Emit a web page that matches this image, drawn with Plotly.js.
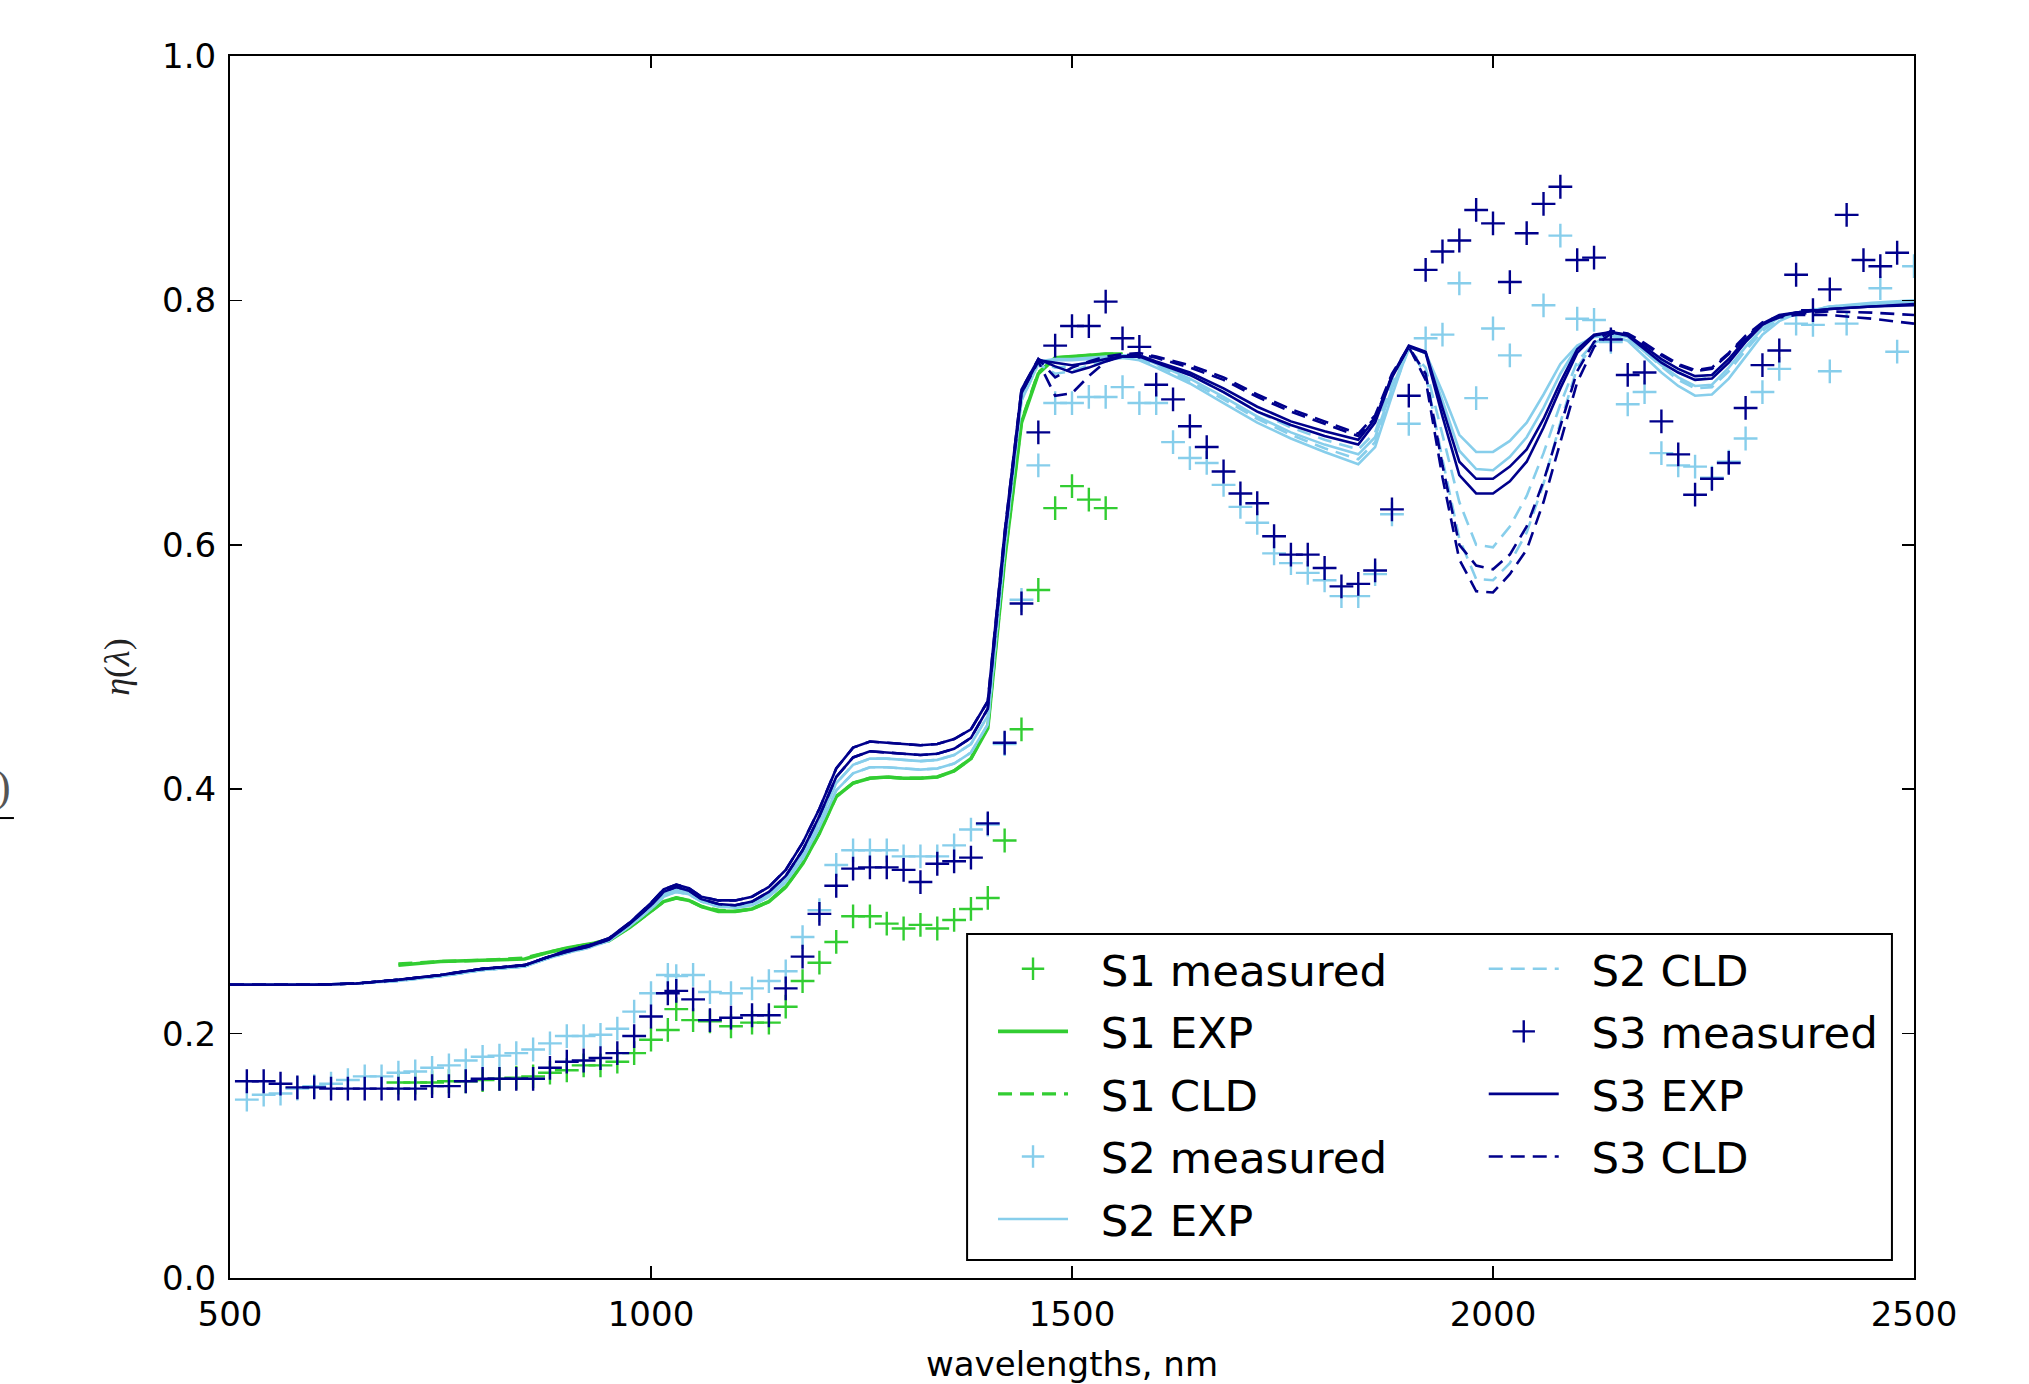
<!DOCTYPE html>
<html>
<head>
<meta charset="utf-8">
<script src="https://cdn.plot.ly/plotly-3.0.1.min.js"></script>
<style>html,body{margin:0;padding:0;background:#fff;}#chart{width:2029px;height:1384px;}</style>
</head>
<body>
<div id="chart"></div>
<script>
// ---------- data ----------
const xTicks = [500, 1000, 1500, 2000, 2500];
const yTicks = [0, 0.2, 0.4, 0.6, 0.8, 1.0];
const yTickText = ['0.0', '0.2', '0.4', '0.6', '0.8', '1.0'];

// measured wavelengths (S2, S3)
const measWl = [520,540,560,580,600,620,640,660,680,700,720,740,760,780,800,820,840,860,880,900,920,940,960,980,1000,
  1020,1030,1050,1070,1095,1120,1140,
  1160,1180,1200,1220,1240,1260,1280,1300,1320,1340,1360,1380,1400,1420,1440,1460,1480,1500,1520,1540,
  1560,1580,1600,1620,1640,1660,1680,1700,1720,1740,1760,1780,1800,1820,1840,1860,1880,1900,1920,1940,
  1960,1980,2000,2020,2040,2060,2080,2100,2120,2140,2160,2180,2200,2220,2240,2260,2280,2300,2320,2340,
  2360,2380,2400,2420,2440,2460,2480,2500];

const s2Measured = [0.146,0.150,0.151,0.155,0.157,0.159,0.162,0.165,0.165,0.168,0.169,0.172,0.174,0.178,0.181,0.182,0.184,0.187,0.192,0.198,0.198,0.199,0.204,0.218,0.233,
  0.248,0.247,0.248,0.234,0.233,0.237,0.243,
  0.251,0.279,0.301,0.338,0.350,0.350,0.350,0.345,0.345,0.345,0.354,0.367,0.371,0.437,0.555,0.665,0.716,0.716,0.721,0.721,
  0.729,0.716,0.716,0.684,0.671,0.667,0.649,0.631,0.618,0.593,0.585,0.577,0.571,0.558,0.558,0.576,0.625,0.699,0.769,0.772,
  0.814,0.720,0.777,0.755,null,0.796,0.853,0.785,0.784,0.766,0.715,0.725,0.675,0.665,0.664,0.655,0.668,0.687,0.725,0.744,
  0.781,0.780,0.742,0.781,null,0.810,0.758,0.828];

const s3Measured = [0.161,0.161,0.159,0.156,0.156,0.155,0.155,0.155,0.155,0.155,0.155,0.157,0.157,0.161,0.163,0.163,0.163,0.163,0.172,0.177,0.178,0.180,0.184,0.198,0.214,
  0.233,0.235,0.228,0.211,0.213,0.215,0.215,
  0.237,0.263,0.298,0.321,0.335,0.336,0.336,0.334,0.324,0.339,0.341,0.344,0.372,0.438,0.552,0.692,0.763,0.779,0.779,0.799,
  0.769,0.762,0.731,0.719,0.697,0.680,0.660,0.642,0.634,0.607,0.592,0.592,0.581,0.566,0.568,0.579,0.629,0.722,0.825,0.840,
  0.849,0.874,0.863,0.815,0.855,0.879,0.893,0.833,0.835,0.768,0.739,0.741,0.701,0.674,0.641,0.654,0.667,0.712,0.747,0.759,
  0.821,0.792,0.809,0.870,0.833,0.828,0.839,null];

// S1 measured
const s1MeasWl = [700,720,740,760,780,800,820,840,860,880,900,920,940,960,980,1000,
  1020,1030,1050,1070,1095,1120,1140,
  1160,1180,1200,1220,1240,1260,1280,1300,1320,1340,1360,1380,1400,1420,1440,1460,1480,1500,1520,1540];
const s1Measured = [0.160,0.160,0.160,0.161,0.161,0.162,0.163,0.164,0.165,0.168,0.170,0.174,0.174,0.177,0.184,0.195,
  0.203,0.220,0.211,0.210,0.206,0.209,0.209,
  0.222,0.243,0.258,0.275,0.296,0.296,0.290,0.286,0.289,0.286,0.293,0.302,0.311,0.358,0.449,0.563,0.630,0.648,0.637,0.630];

// S1 model curves
const s1LineWl = [700,750,800,850,875,900,925,950,975,1000,1015,1030,1045,1060,1080,1100,1120,1140,1160,1180,1200,
  1220,1240,1260,1280,1300,1320,1340,1360,1380,1400,1420,1440,1460,1480,1500,1520,1540,1560];
const s1Exp = [0.256,0.259,0.260,0.261,0.266,0.270,0.273,0.276,0.287,0.300,0.308,0.311,0.309,0.304,0.300,0.300,0.302,0.308,0.320,0.339,0.364,
  0.394,0.405,0.409,0.410,0.409,0.409,0.410,0.415,0.425,0.450,0.588,0.700,0.740,0.753,0.754,0.755,0.756,0.756];
const s1Cld = [0.257,0.259,0.260,0.262,0.266,0.270,0.273,0.277,0.287,0.300,0.308,0.311,0.309,0.304,0.301,0.300,0.302,0.308,0.320,0.339,0.364,
  0.394,0.405,0.409,0.410,0.409,0.409,0.410,0.415,0.425,0.451,0.589,0.701,0.741,0.753,0.754,0.755,0.756,0.756];

// S2 / S3 model curves
const lineWl = [500,550,600,650,700,750,800,850,875,900,925,950,975,1000,1015,1030,1045,1060,1080,1100,
  1120,1140,1160,1180,1200,1220,1240,1260,1280,1300,1320,1340,1360,1380,1400,1420,1440,1460,1480,1500,
  1520,1540,1560,1580,1600,1640,1680,1720,1760,1800,1840,1860,1880,1900,1920,1940,1960,1980,2000,2020,
  2040,2060,2080,2100,2120,2140,2160,2180,2200,2220,2240,2260,2280,2300,2320,2340,2360,2400,2450,2500];

const s2ExpA = [0.240,0.240,0.240,0.241,0.243,0.247,0.252,0.255,0.261,0.266,0.270,0.276,0.288,0.302,0.312,0.316,0.314,0.308,0.304,0.303,
  0.305,0.312,0.324,0.343,0.369,0.399,0.413,0.418,0.418,0.417,0.416,0.417,0.421,0.430,0.453,0.596,0.718,0.748,0.751,0.751,
  0.752,0.753,0.753,0.751,0.745,0.732,0.716,0.700,0.687,0.676,0.666,0.680,0.722,0.762,0.757,0.725,0.690,0.676,0.676,0.685,
  0.700,0.723,0.748,0.763,0.770,0.771,0.767,0.754,0.741,0.730,0.722,0.723,0.736,0.754,0.772,0.783,0.789,0.795,0.798,0.800];
const s2ExpB = [0.240,0.240,0.240,0.241,0.244,0.247,0.252,0.255,0.261,0.267,0.271,0.277,0.289,0.304,0.314,0.318,0.316,0.309,0.305,0.304,
  0.307,0.314,0.327,0.347,0.374,0.405,0.420,0.425,0.425,0.424,0.423,0.424,0.428,0.437,0.460,0.600,0.721,0.750,0.752,0.752,
  0.753,0.754,0.755,0.754,0.748,0.736,0.721,0.705,0.692,0.682,0.674,0.688,0.728,0.762,0.757,0.718,0.677,0.662,0.661,0.672,
  0.688,0.712,0.740,0.762,0.771,0.773,0.770,0.758,0.747,0.737,0.730,0.731,0.745,0.762,0.777,0.786,0.790,0.794,0.797,0.799];
const s2CldA = [0.240,0.240,0.240,0.241,0.244,0.247,0.252,0.255,0.261,0.267,0.271,0.277,0.289,0.304,0.314,0.318,0.316,0.309,0.305,0.304,
  0.307,0.314,0.327,0.347,0.374,0.405,0.420,0.425,0.425,0.424,0.423,0.424,0.428,0.437,0.460,0.600,0.721,0.750,0.745,0.746,
  0.750,0.753,0.755,0.755,0.750,0.739,0.725,0.709,0.696,0.686,0.678,0.692,0.733,0.760,0.745,0.690,0.635,0.600,0.598,0.615,
  0.640,0.675,0.715,0.750,0.765,0.772,0.771,0.761,0.750,0.741,0.735,0.737,0.750,0.766,0.780,0.787,0.790,0.794,0.796,0.797];
const s2CldB = [0.240,0.240,0.240,0.241,0.243,0.247,0.252,0.255,0.261,0.266,0.270,0.276,0.288,0.302,0.312,0.316,0.314,0.308,0.304,0.303,
  0.305,0.312,0.324,0.343,0.369,0.399,0.413,0.418,0.418,0.417,0.416,0.417,0.421,0.430,0.453,0.596,0.718,0.748,0.740,0.742,
  0.747,0.751,0.753,0.752,0.747,0.734,0.719,0.703,0.690,0.679,0.670,0.684,0.725,0.760,0.740,0.670,0.605,0.572,0.571,0.585,
  0.610,0.650,0.700,0.745,0.765,0.772,0.769,0.758,0.746,0.735,0.728,0.729,0.742,0.759,0.775,0.785,0.790,0.795,0.797,0.798];

const s3ExpA = [0.240,0.240,0.240,0.241,0.244,0.248,0.253,0.256,0.262,0.268,0.272,0.278,0.291,0.307,0.318,0.322,0.319,0.312,0.309,0.309,
  0.312,0.320,0.334,0.356,0.384,0.417,0.434,0.439,0.438,0.437,0.436,0.437,0.441,0.449,0.472,0.610,0.727,0.752,0.746,0.741,
  0.745,0.750,0.754,0.755,0.750,0.741,0.728,0.713,0.701,0.693,0.686,0.703,0.738,0.763,0.758,0.712,0.668,0.654,0.654,0.664,
  0.678,0.703,0.733,0.760,0.772,0.774,0.772,0.762,0.752,0.744,0.738,0.739,0.752,0.768,0.781,0.788,0.790,0.793,0.795,0.796];
const s3ExpB = [0.240,0.240,0.240,0.241,0.244,0.248,0.253,0.256,0.262,0.267,0.271,0.277,0.290,0.305,0.316,0.320,0.317,0.310,0.306,0.305,
  0.308,0.316,0.329,0.350,0.378,0.410,0.426,0.431,0.430,0.429,0.428,0.429,0.433,0.442,0.466,0.605,0.724,0.751,0.749,0.747,
  0.749,0.752,0.754,0.754,0.749,0.739,0.725,0.709,0.698,0.689,0.682,0.700,0.737,0.762,0.757,0.705,0.657,0.642,0.642,0.652,
  0.668,0.696,0.728,0.757,0.771,0.774,0.771,0.760,0.749,0.741,0.735,0.736,0.749,0.766,0.780,0.787,0.790,0.793,0.795,0.797];
const s3CldA = [0.240,0.240,0.240,0.241,0.244,0.248,0.253,0.256,0.262,0.268,0.272,0.278,0.291,0.307,0.318,0.322,0.319,0.312,0.309,0.309,
  0.312,0.320,0.334,0.356,0.384,0.417,0.434,0.439,0.438,0.437,0.436,0.437,0.441,0.449,0.472,0.610,0.727,0.752,0.737,0.745,
  0.750,0.754,0.756,0.757,0.754,0.747,0.737,0.723,0.711,0.701,0.691,0.706,0.740,0.762,0.740,0.665,0.600,0.583,0.580,0.592,
  0.615,0.652,0.697,0.742,0.766,0.775,0.773,0.765,0.756,0.748,0.743,0.745,0.757,0.771,0.782,0.787,0.789,0.791,0.790,0.788];
const s3CldB = [0.240,0.240,0.240,0.241,0.244,0.248,0.253,0.256,0.262,0.267,0.271,0.277,0.290,0.305,0.316,0.320,0.317,0.310,0.306,0.305,
  0.308,0.316,0.329,0.350,0.378,0.410,0.426,0.431,0.430,0.429,0.428,0.429,0.433,0.442,0.466,0.605,0.724,0.750,0.722,0.724,
  0.738,0.750,0.755,0.756,0.753,0.745,0.735,0.721,0.709,0.699,0.689,0.704,0.738,0.762,0.735,0.655,0.588,0.562,0.561,0.576,
  0.596,0.635,0.683,0.733,0.762,0.773,0.772,0.764,0.755,0.747,0.742,0.744,0.756,0.770,0.781,0.786,0.788,0.788,0.785,0.781];

// ---------- styles ----------
const GREEN = '#32CD32', LIGHT = '#87CEEB', DARK = '#00008B';
const DASH = '14px,8px';
const LW = 2.6;
const PAD = '\u00a0\u00a0';

function meas(name, x, y, color, legend, rank) {
  return {type: 'scatter', mode: 'markers', name: PAD + name, x: x, y: y,
    marker: {symbol: 'cross-thin', size: 17, color: color, line: {color: color, width: 2.4}},
    legend: legend, legendrank: rank, legendgroup: name};
}
function curve(name, x, y, color, dash, legend, rank, show, width) {
  return {type: 'scatter', mode: 'lines', name: PAD + name, x: x, y: y,
    line: {color: color, width: width || LW, dash: dash},
    legend: legend, legendrank: rank, legendgroup: name, showlegend: show};
}

const traces = [
  meas('S1 measured', s1MeasWl, s1Measured, GREEN, 'legend', 1),
  curve('S1 EXP', s1LineWl, s1Exp, GREEN, 'solid', 'legend', 2, true, 3.6),
  curve('S1 CLD', s1LineWl, s1Cld, GREEN, DASH, 'legend', 3, true, 3.2),
  meas('S2 measured', measWl, s2Measured, LIGHT, 'legend', 4),
  curve('S2 EXP', lineWl, s2ExpA, LIGHT, 'solid', 'legend', 5, true),
  curve('S2 EXP', lineWl, s2ExpB, LIGHT, 'solid', 'legend', 5, false),
  curve('S2 CLD', lineWl, s2CldA, LIGHT, DASH, 'legend2', 1, true),
  curve('S2 CLD', lineWl, s2CldB, LIGHT, DASH, 'legend2', 1, false),
  meas('S3 measured', measWl, s3Measured, DARK, 'legend2', 2),
  curve('S3 EXP', lineWl, s3ExpA, DARK, 'solid', 'legend2', 3, true),
  curve('S3 EXP', lineWl, s3ExpB, DARK, 'solid', 'legend2', 3, false),
  curve('S3 CLD', lineWl, s3CldA, DARK, DASH, 'legend2', 4, true),
  curve('S3 CLD', lineWl, s3CldB, DARK, DASH, 'legend2', 4, false)
];

const legendFont = {family: 'DejaVu Sans', size: 43.5, color: '#000'};
const legendCommon = {orientation: 'v', yanchor: 'top', xanchor: 'left', bgcolor: 'rgba(0,0,0,0)',
  borderwidth: 0, font: legendFont, itemwidth: 70, traceorder: 'grouped', tracegroupgap: 3,
  itemclick: false, itemdoubleclick: false};

const layout = {
  width: 2029, height: 1384,
  margin: {l: 230, r: 115, t: 56, b: 106, pad: 0},
  paper_bgcolor: '#fff', plot_bgcolor: '#fff',
  font: {family: 'DejaVu Sans', size: 34, color: '#000'},
  showlegend: true,
  xaxis: {
    range: [500, 2500], tickvals: xTicks, ticks: 'inside', ticklen: 12, tickwidth: 1.5, tickcolor: '#000',
    mirror: 'ticks', showline: true, linecolor: '#000', linewidth: 2, showgrid: false, zeroline: false,
    tickfont: {size: 34}, ticklabelstandoff: 5,
    title: {text: 'wavelengths, nm', font: {size: 34}, standoff: 20}
  },
  yaxis: {
    range: [0, 1], tickvals: yTicks, ticktext: yTickText, ticks: 'inside', ticklen: 12, tickwidth: 1.5, tickcolor: '#000',
    mirror: 'ticks', showline: true, linecolor: '#000', linewidth: 2, showgrid: false, zeroline: false,
    tickfont: {size: 34}, ticklabelstandoff: 5,
    title: {text: '<i>η</i>(<i>λ</i>)', font: {family: 'Liberation Serif', size: 36, color: '#222'}, standoff: 22}
  },
  legend: Object.assign({}, legendCommon, {x: 0.4531, y: 0.2815}),
  legend2: Object.assign({}, legendCommon, {x: 0.7445, y: 0.2815}),
  shapes: [
    {type: 'rect', xref: 'paper', yref: 'paper', x0: 0.4377, x1: 0.9869, y0: 0.0147, y1: 0.2815,
     line: {color: '#000', width: 2}, fillcolor: '#fff', layer: 'above'},
    {type: 'line', xref: 'paper', yref: 'paper', x0: -0.1366, x1: -0.1283, y0: 0.3764, y1: 0.3764,
     line: {color: '#000', width: 2}}
  ],
  annotations: [
    {text: ')', xref: 'paper', yref: 'paper', x: -0.1290, y: 0.402, xanchor: 'right', yanchor: 'middle',
     showarrow: false, font: {family: 'Liberation Serif', size: 44, color: '#555'}}
  ]
};

Plotly.newPlot('chart', traces, layout, {staticPlot: true, displayModeBar: false});
</script>
</body>
</html>
